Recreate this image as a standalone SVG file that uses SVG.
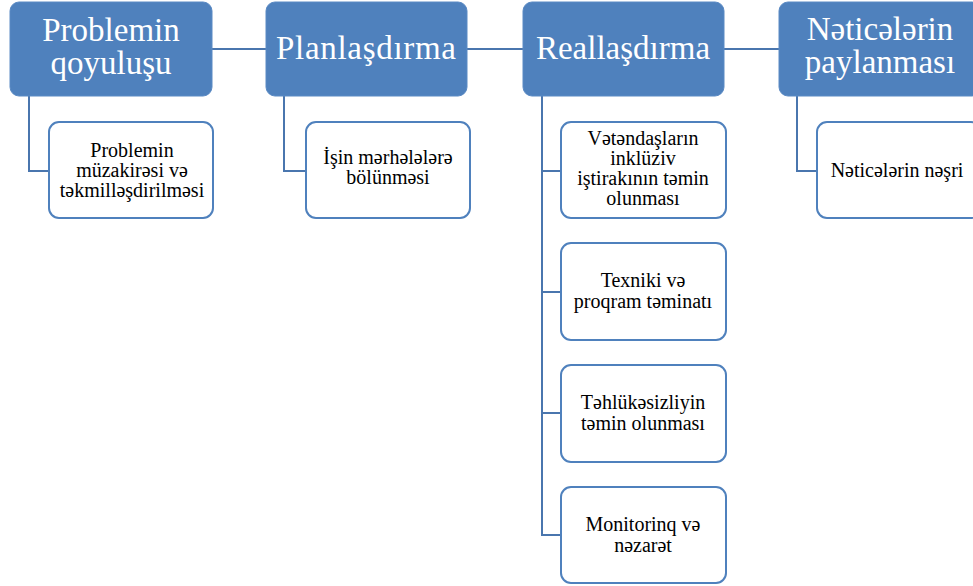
<svg xmlns="http://www.w3.org/2000/svg" width="973" height="586" viewBox="0 0 973 586">
<style>
.hdr{fill:#4F81BD;stroke:#5A8AC4;stroke-width:1}
.child{fill:#FFFFFF;stroke:#4F81BD;stroke-width:2}
.conn{fill:none;stroke:#4A76AE;stroke-width:2}
.ht{font-family:"Liberation Serif","Times New Roman",serif;font-size:33px;fill:#FFFFFF;text-anchor:middle}
.ct{font-family:"Liberation Serif","Times New Roman",serif;font-size:20px;fill:#000000;text-anchor:middle}
</style>
<rect width="973" height="586" fill="#FFFFFF"/>
<g id="connectors">
<line class="conn" x1="212" y1="49" x2="266" y2="49"/>
<line class="conn" x1="467" y1="49" x2="523" y2="49"/>
<line class="conn" x1="724" y1="49" x2="779" y2="49"/>
<polyline class="conn" points="29,96 29,171 49,171"/>
<polyline class="conn" points="284,96 284,171 306,171"/>
<polyline class="conn" points="542,96 542,535 561,535"/>
<line class="conn" x1="542" y1="171" x2="561" y2="171"/>
<line class="conn" x1="542" y1="292" x2="561" y2="292"/>
<line class="conn" x1="542" y1="413" x2="561" y2="413"/>
<polyline class="conn" points="797,96 797,171 817,171"/>
</g>
<g id="h1">
<rect class="hdr" x="10" y="2" width="202" height="94" rx="9"/>
<text class="ht" x="111" y="41">Problemin</text>
<text class="ht" x="111" y="74">qoyuluşu</text>
</g>
<g id="h2">
<rect class="hdr" x="266" y="2" width="201" height="94" rx="9"/>
<text class="ht" x="366" y="59" textLength="180">Planlaşdırma</text>
</g>
<g id="h3">
<rect class="hdr" x="523" y="2" width="201" height="94" rx="9"/>
<text class="ht" x="623" y="59">Reallaşdırma</text>
</g>
<g id="h4">
<rect class="hdr" x="779" y="2" width="202" height="94" rx="9"/>
<text class="ht" x="880" y="40">Nəticələrin</text>
<text class="ht" x="880" y="73">paylanması</text>
</g>
<g id="c1">
<rect class="child" x="49" y="122" width="164" height="96" rx="10"/>
<text class="ct" x="132" y="157">Problemin</text>
<text class="ct" x="132" y="177">müzakirəsi və</text>
<text class="ct" x="132" y="197">təkmilləşdirilməsi</text>
</g>
<g id="c2">
<rect class="child" x="306" y="122" width="164" height="96" rx="10"/>
<text class="ct" x="388" y="164">İşin mərhələlərə</text>
<text class="ct" x="388" y="184">bölünməsi</text>
</g>
<g id="c3">
<rect class="child" x="561" y="122" width="165" height="96" rx="10"/>
<text class="ct" x="643" y="145">Vətəndaşların</text>
<text class="ct" x="643" y="165">inklüziv</text>
<text class="ct" x="643" y="185">iştirakının təmin</text>
<text class="ct" x="643" y="205">olunması</text>
</g>
<g id="c4">
<rect class="child" x="561" y="243" width="165" height="97" rx="10"/>
<text class="ct" x="643" y="287">Texniki və</text>
<text class="ct" x="643" y="308">proqram təminatı</text>
</g>
<g id="c5">
<rect class="child" x="561" y="365" width="165" height="97" rx="10"/>
<text class="ct" x="643" y="409">Təhlükəsizliyin</text>
<text class="ct" x="643" y="430">təmin olunması</text>
</g>
<g id="c6">
<rect class="child" x="561" y="487" width="165" height="96" rx="10"/>
<text class="ct" x="643" y="531">Monitorinq və</text>
<text class="ct" x="643" y="552">nəzarət</text>
</g>
<g id="c7">
<rect class="child" x="817" y="122" width="164" height="96" rx="10"/>
<text class="ct" x="897" y="177">Nəticələrin nəşri</text>
</g>
</svg>
